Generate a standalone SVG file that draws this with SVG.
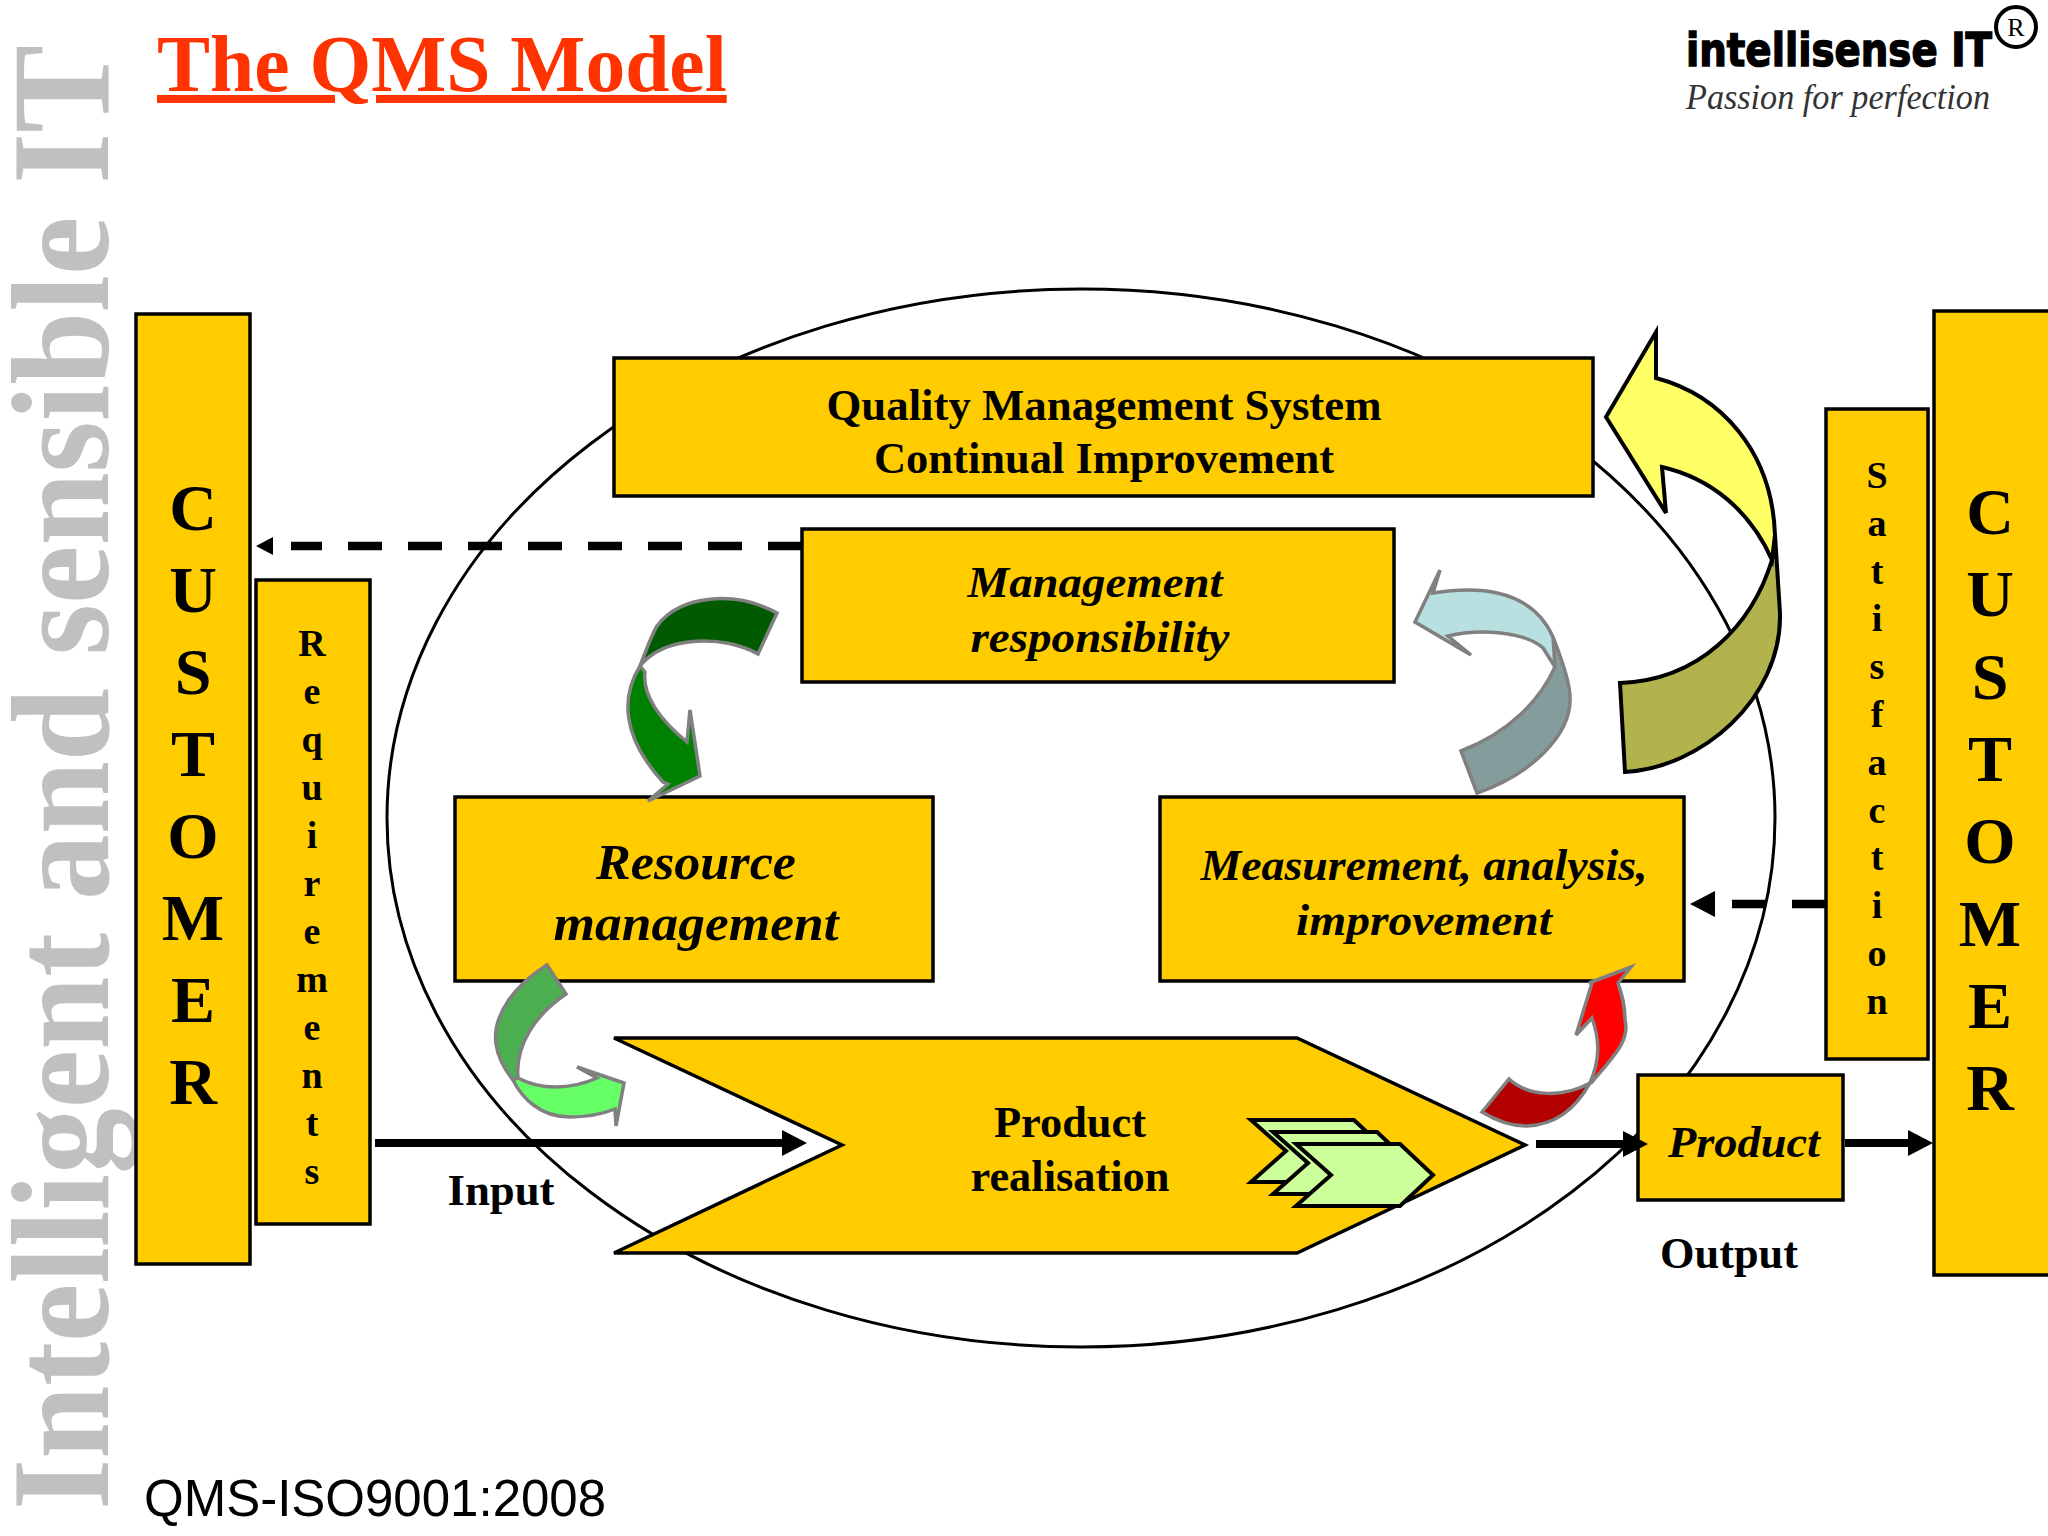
<svg xmlns="http://www.w3.org/2000/svg" width="2048" height="1536" viewBox="0 0 2048 1536">
<style>
.box{fill:#FFCC00;stroke:#000;stroke-width:3.5}
.t{font-family:"Liberation Serif",serif;font-weight:bold;fill:#000;text-anchor:middle}
.i{font-style:italic}
.big{font-size:66px}
.small{font-size:38px}
.gs{stroke:#808080;stroke-width:3.5;stroke-linejoin:miter}
.ks{stroke:#000;stroke-width:4}
.chev{fill:#CCFF99;stroke:#000;stroke-width:4}
.line{fill:none;stroke:#000;stroke-width:8}
.dash{fill:none;stroke:#000;stroke-width:8.5;stroke-dasharray:34 26}
</style>
<defs>
<marker id="ah" markerUnits="userSpaceOnUse" markerWidth="26" markerHeight="26" refX="2" refY="13" orient="auto"><path d="M0,0L25,13L0,26Z" fill="#000"/></marker>
<marker id="dl" markerUnits="userSpaceOnUse" markerWidth="18" markerHeight="18" refX="-18" refY="9" orient="auto" style="overflow:visible"><path d="M0,0L17,9L0,18Z" fill="#000"/></marker>
<marker id="dr" markerUnits="userSpaceOnUse" markerWidth="26" markerHeight="26" refX="-17" refY="13" orient="auto" style="overflow:visible"><path d="M0,0L25,13L0,26Z" fill="#000"/></marker>
</defs>
<rect width="2048" height="1536" fill="#fff"/>
<text id="watermark" transform="translate(108,1510) rotate(-90)" font-family="Liberation Serif,serif" font-weight="bold" font-size="140" fill="#c0c0c0" textLength="1465" lengthAdjust="spacingAndGlyphs">Intelligent and sensible IT</text>
<text id="title" x="157" y="91" font-family="Liberation Serif,serif" font-weight="bold" font-size="79.5" fill="#FF3300" text-decoration="underline">The QMS Model</text>
<g id="logo">
<text x="1686" y="66" font-family="DejaVu Sans,sans-serif" font-weight="bold" font-size="46" fill="#000" stroke="#000" stroke-width="1.5" textLength="306" lengthAdjust="spacingAndGlyphs">intellisense IT</text>
<text x="1686" y="109" font-family="Liberation Serif,serif" font-style="italic" font-size="35" fill="#333" textLength="304" lengthAdjust="spacingAndGlyphs">Passion for perfection</text>
<circle cx="2016" cy="27" r="20" fill="none" stroke="#000" stroke-width="4"/>
<text x="2016" y="36" font-family="Liberation Serif,serif" font-size="26" fill="#000" text-anchor="middle">R</text>
</g>
<ellipse id="system-boundary" cx="1081" cy="818" rx="694" ry="529" fill="#fff" stroke="#000" stroke-width="3"/>
<g id="customer-left"><rect class="box" x="136" y="314" width="114" height="950"/>
<text class="t big" x="193" y="530"><tspan x="193">C</tspan><tspan x="193" dy="82">U</tspan><tspan x="193" dy="82">S</tspan><tspan x="193" dy="82">T</tspan><tspan x="193" dy="82">O</tspan><tspan x="193" dy="82">M</tspan><tspan x="193" dy="82">E</tspan><tspan x="193" dy="82">R</tspan></text></g>
<g id="requirements"><rect class="box" x="256" y="580" width="114" height="644"/>
<text class="t small" x="312" y="656"><tspan x="312">R</tspan><tspan x="312" dy="48">e</tspan><tspan x="312" dy="48">q</tspan><tspan x="312" dy="48">u</tspan><tspan x="312" dy="48">i</tspan><tspan x="312" dy="48">r</tspan><tspan x="312" dy="48">e</tspan><tspan x="312" dy="48">m</tspan><tspan x="312" dy="48">e</tspan><tspan x="312" dy="48">n</tspan><tspan x="312" dy="48">t</tspan><tspan x="312" dy="48">s</tspan></text></g>
<g id="qms"><rect class="box" x="614" y="358" width="979" height="138"/>
<text class="t" font-size="44" x="1104" y="420" textLength="555" lengthAdjust="spacingAndGlyphs">Quality Management System</text>
<text class="t" font-size="44" x="1104" y="473" textLength="460" lengthAdjust="spacingAndGlyphs">Continual Improvement</text></g>
<g id="management"><rect class="box" x="802" y="529" width="592" height="153"/>
<text class="t i" font-size="44" x="1095" y="597" textLength="255" lengthAdjust="spacingAndGlyphs">Management</text>
<text class="t i" font-size="44" x="1100" y="652" textLength="259" lengthAdjust="spacingAndGlyphs">responsibility</text></g>
<g id="resource"><rect class="box" x="455" y="797" width="478" height="184"/>
<text class="t i" font-size="50" x="696" y="879" textLength="200" lengthAdjust="spacingAndGlyphs">Resource</text>
<text class="t i" font-size="50" x="696" y="940" textLength="285" lengthAdjust="spacingAndGlyphs">management</text></g>
<g id="measurement"><rect class="box" x="1160" y="797" width="524" height="184"/>
<text class="t i" font-size="44" x="1424" y="880" textLength="447" lengthAdjust="spacingAndGlyphs">Measurement, analysis,</text>
<text class="t i" font-size="44" x="1424" y="935" textLength="256" lengthAdjust="spacingAndGlyphs">improvement</text></g>
<g id="realisation"><polygon class="box" points="614,1038 1297,1038 1525,1145 1297,1253 614,1253 842,1145"/>
<text class="t" font-size="44" x="1070" y="1137" textLength="152" lengthAdjust="spacingAndGlyphs">Product</text>
<text class="t" font-size="44" x="1070" y="1191" textLength="199" lengthAdjust="spacingAndGlyphs">realisation</text>
<polygon class="chev" points="1251,1120 1354,1120 1387,1151 1354,1182 1251,1182 1286,1151"/>
<polygon class="chev" points="1273,1132 1377,1132 1410,1163 1377,1194 1273,1194 1308,1163"/>
<polygon class="chev" points="1296,1144 1400,1144 1433,1175 1400,1206 1296,1206 1331,1175"/></g>
<g id="product"><rect class="box" x="1638" y="1075" width="205" height="125"/>
<text class="t i" font-size="44" x="1744" y="1157" textLength="152" lengthAdjust="spacingAndGlyphs">Product</text></g>
<g id="satisfaction"><rect class="box" x="1826" y="409" width="102" height="650"/>
<text class="t small" x="1877" y="488"><tspan x="1877">S</tspan><tspan x="1877" dy="47.8">a</tspan><tspan x="1877" dy="47.8">t</tspan><tspan x="1877" dy="47.8">i</tspan><tspan x="1877" dy="47.8">s</tspan><tspan x="1877" dy="47.8">f</tspan><tspan x="1877" dy="47.8">a</tspan><tspan x="1877" dy="47.8">c</tspan><tspan x="1877" dy="47.8">t</tspan><tspan x="1877" dy="47.8">i</tspan><tspan x="1877" dy="47.8">o</tspan><tspan x="1877" dy="47.8">n</tspan></text></g>
<g id="customer-right"><rect class="box" x="1934" y="311" width="116" height="964"/>
<text class="t big" x="1990" y="534"><tspan x="1990">C</tspan><tspan x="1990" dy="82.3">U</tspan><tspan x="1990" dy="82.3">S</tspan><tspan x="1990" dy="82.3">T</tspan><tspan x="1990" dy="82.3">O</tspan><tspan x="1990" dy="82.3">M</tspan><tspan x="1990" dy="82.3">E</tspan><tspan x="1990" dy="82.3">R</tspan></text></g>
<g id="connectors">
<path class="line" d="M375,1143H784" marker-end="url(#ah)"/>
<path class="line" d="M1536,1144H1625" marker-end="url(#ah)"/>
<path class="line" d="M1845,1143H1910" marker-end="url(#ah)"/>
<path class="dash" d="M802,546H291" marker-end="url(#dl)"/>
<path class="dash" d="M1826,904H1732" marker-end="url(#dr)"/>
<g id="arrow-improvement">
<path class="ks" fill="#B3B34D" d="M1620,683L1625,772C1700,768 1782,700 1780,613L1775,535L1772,560C1752,625 1700,680 1620,683Z"/>
<path class="ks" fill="#FFFF66" d="M1606,417L1656,332V378C1720,395 1772,450 1775,535L1772,560C1750,510 1710,478 1662,467L1666,513Z"/>
</g>
<g id="arrow-measure-mgmt">
<path class="gs" fill="#849C9C" d="M1461,751L1477,793C1530,775 1572,735 1570,697C1570,680 1558,650 1553,637L1555,667C1540,700 1510,732 1461,751Z"/>
<path class="gs" fill="#B8E0E0" d="M1415,622L1440,570L1433,593C1470,587 1530,585 1553,637L1555,667L1543,648C1525,632 1480,628 1448,636L1471,655Z"/>
</g>
<g id="arrow-mgmt-resource">
<path class="gs" fill="#005A00" d="M777,613L758,654C725,635 665,635 640,666C648,645 652,634 657,626C680,595 735,590 777,613Z"/>
<path class="gs" fill="#008000" d="M640,666C622,695 620,735 663,782L668,784L648,801L700,776L690,710L687,742C660,720 642,695 645,672Z"/>
</g>
<g id="arrow-resource-product">
<path class="gs" fill="#4CAF50" d="M547,965C515,985 492,1015 496,1044C498,1058 505,1070 513,1080L518,1078C515,1045 535,1015 566,994Z"/>
<path class="gs" fill="#66FF66" d="M513,1080C522,1098 540,1117 570,1117C590,1117 605,1113 615,1109L616,1126L624,1083L577,1067L597,1078C570,1090 540,1090 518,1078Z"/>
</g>
<g id="arrow-product-measure">
<path class="gs" fill="#B30000" d="M1482,1112L1509,1079C1530,1098 1565,1097 1590,1083C1575,1110 1555,1125 1527,1126C1510,1126 1495,1120 1482,1112Z"/>
<path class="gs" fill="#FF0000" d="M1592,1082C1615,1055 1630,1040 1625,1020C1625,1005 1622,995 1618,983L1631,967L1589,983H1592L1576,1035L1592,1018C1600,1040 1600,1060 1590,1083Z"/>
</g>
</g>
<text id="input-label" class="t" font-size="44" x="501" y="1205" textLength="107" lengthAdjust="spacingAndGlyphs">Input</text>
<text id="output-label" class="t" font-size="44" x="1729" y="1268" textLength="138" lengthAdjust="spacingAndGlyphs">Output</text>
<text id="footer" x="144" y="1516" font-family="Liberation Sans,sans-serif" font-size="51" fill="#000">QMS-ISO9001:2008</text>
</svg>
